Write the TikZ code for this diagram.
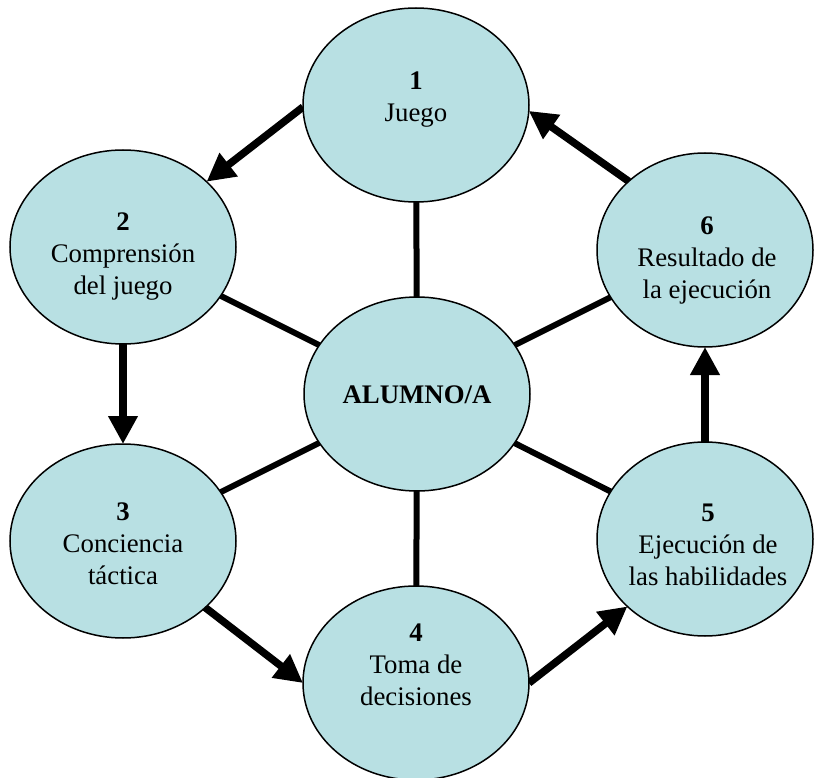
\documentclass[tikz,border=0pt]{standalone}
\usepackage{fontspec}
\setmainfont{Liberation Serif}
\usetikzlibrary{arrows.meta,backgrounds,shapes.geometric}
\definecolor{bubfill}{RGB}{184,224,227}
\begin{document}
\begin{tikzpicture}[x=1pt,y=-1pt,
  bub/.style={ellipse,draw=black,line width=1.5pt,fill=bubfill,inner sep=0pt,outer sep=0pt,minimum width=226pt,minimum height=194pt},
  bubr/.style={bub,minimum width=216pt},
  txt/.style={align=center,inner sep=0pt,font=\fontsize{26.8}{32}\selectfont},
  link/.style={line width=6pt},
  flow/.style={line width=7.5pt,-{Triangle[length=28pt,width=28pt]}}
]
\useasboundingbox (0,0) rectangle (814,778);
\node[bub]  (n1) at (416,105) {};
\node[bub]  (n2) at (123,247) {};
\node[bub]  (c)  at (417,394) {};
\node[bubr] (n6) at (705,250) {};
\node[bub]  (n3) at (123,541) {};
\node[bubr] (n5) at (705,539) {};
\node[bub]  (n4) at (416,683) {};
\node[txt] (t1) at (416,100) {\textbf{1}\\Juego};
\node[txt] (t2) at (123,257) {\textbf{2}\\Comprensión\\del juego};
\node[txt] (tc) at (417,395) {\textbf{ALUMNO/A}};
\node[txt] (t6) at (707,260) {\textbf{6}\\Resultado de\\la ejecución};
\node[txt] (t3) at (123,544) {\textbf{3}\\Conciencia\\táctica};
\node[txt] (t5) at (708,545) {\textbf{5}\\Ejecución de\\las habilidades};
\node[txt] (t4) at (416,665) {\textbf{4}\\Toma de\\decisiones};
\begin{scope}[on background layer]
\draw[link] (c) -- (n1);
\draw[link] (c) -- (n2);
\draw[link] (c) -- (n6);
\draw[link] (c) -- (n3);
\draw[link] (c) -- (n5);
\draw[link] (c) -- (n4);
\draw[flow] (n1.181) -- (n2.38);
\draw[flow] (n2.south) -- (n3.north);
\draw[flow] (n3.-39.5) -- (n4.west);
\draw[flow] (n4.east) -- (n5.221);
\draw[flow] (n5.north) -- (n6.south);
\draw[flow] (n6.138) -- (n1.-3);
\end{scope}
\end{tikzpicture}
\end{document}
